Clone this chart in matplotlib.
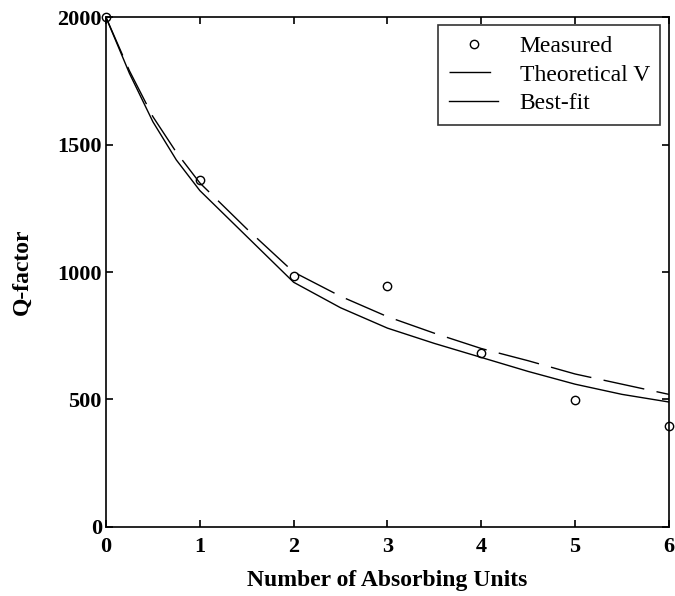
import matplotlib

matplotlib.use("Agg")
import matplotlib.pyplot as plt

plt.rcParams["font.family"] = ["Liberation Serif", "DejaVu Serif"]

# Measured Q-factor per number of absorbing units
units = [0, 1, 2, 3, 4, 5, 6]
q_measured = [2000, 1360, 984, 945, 682, 498, 396]

x_theory = [0, 0.25, 0.5, 0.75, 1, 1.5, 2, 2.5, 3, 3.5, 4, 4.5, 5, 5.5, 6]
q_theory = [2000, 1790, 1610, 1470, 1350, 1170, 1000, 905, 825, 760, 700, 652, 600, 560, 520]

# Best-fit curve
x_fit = [0, 0.25, 0.5, 0.75, 1, 1.5, 2, 2.5, 3, 3.5, 4, 4.5, 5, 5.5, 6]
q_fit = [2000, 1780, 1590, 1440, 1320, 1140, 960, 860, 780, 720, 665, 610, 560, 520, 490]

fig = plt.figure(figsize=(6.75, 5.96), dpi=100)
ax = fig.add_axes([0.157, 0.116, 0.834, 0.855])

ax.plot(units, q_measured, "o", mfc="none", mec="black", ms=6, mew=1.0,
        label="Measured", clip_on=False, zorder=3)
ax.plot(x_theory, q_theory, color="black", lw=1.0, dashes=[30, 9],
        label="Theoretical V")
ax.plot(x_fit, q_fit, color="black", lw=1.0, label="Best-fit")

ax.set_xlim(0, 6)
ax.set_ylim(0, 2000)
ax.set_xticks(range(0, 7))
ax.set_yticks([0, 500, 1000, 1500, 2000])
ax.tick_params(direction="in", top=True, right=True, length=5, width=1.2,
               labelsize=16)
ax.tick_params(axis="x", pad=7)
ax.tick_params(axis="y", pad=3)
for lbl in ax.get_xticklabels() + ax.get_yticklabels():
    lbl.set_fontweight("bold")
for sp in ax.spines.values():
    sp.set_linewidth(1.2)

ax.set_xlabel("Number of Absorbing Units", fontsize=17, fontweight="bold",
              labelpad=10)
ax.set_ylabel("Q-factor", fontsize=17, fontweight="bold", labelpad=18)

leg = ax.legend(loc="upper right", fontsize=17, frameon=True, fancybox=False,
                edgecolor="black", handlelength=2.1, borderpad=0.45,
                labelspacing=0.3, handletextpad=0.9, borderaxespad=0,
                bbox_to_anchor=(0.985, 0.985))
leg.get_frame().set_linewidth(1.2)

fig.savefig("out.png", dpi=100)
